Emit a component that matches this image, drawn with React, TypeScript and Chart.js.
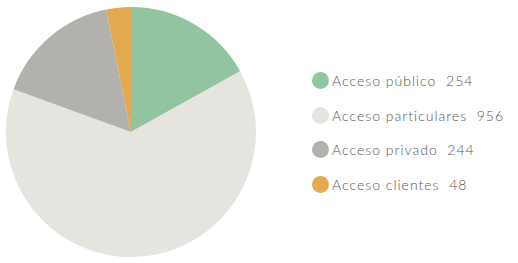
import React, { useEffect, useRef } from "react";
import { Chart, registerables } from "chart.js";

Chart.register(...registerables);

const categories = ["Acceso público", "Acceso particulares", "Acceso privado", "Acceso clientes"];
const values = [254, 956, 244, 48];
const colors = ["#93c4a1", "#e6e4df", "#b2b1ad", "#e3a94f"];

export default function App() {
  const ref = useRef<HTMLCanvasElement | null>(null);

  useEffect(() => {
    document.body.style.margin = "0";
    const chart = new Chart(ref.current as HTMLCanvasElement, {
      type: "pie",
      data: {
        labels: categories,
        datasets: [
          {
            data: values,
            backgroundColor: colors,
            borderWidth: 0,
          },
        ],
      },
      options: {
        animation: false,
        responsive: false,
        maintainAspectRatio: false,
        layout: { padding: { left: 6, top: 7, right: 7, bottom: 6 } },
        plugins: {
          legend: { display: false },
          tooltip: { enabled: false },
        },
      },
    });
    return () => chart.destroy();
  }, []);

  return (
    <div style={{ position: "relative", width: 518, height: 263, background: "#fff" }}>
      <canvas ref={ref} width={263} height={263} style={{ position: "absolute", left: 0, top: 0 }} />
      <div style={{ position: "absolute", left: 312, top: 63 }}>
        {categories.map((c, i) => (
          <div key={c} style={{ display: "flex", alignItems: "center", height: 34.8 }}>
            <span
              style={{
                display: "inline-block",
                width: 17,
                height: 17,
                borderRadius: "50%",
                background: colors[i],
                marginRight: 3,
                flexShrink: 0,
              }}
            />
            <span
              style={{
                fontFamily: "Lato, sans-serif",
                fontWeight: 300,
                fontSize: 14,
                letterSpacing: "1px",
                color: "#555",
                whiteSpace: "pre",
              }}
            >
              {c + "  " + values[i]}
            </span>
          </div>
        ))}
      </div>
    </div>
  );
}
